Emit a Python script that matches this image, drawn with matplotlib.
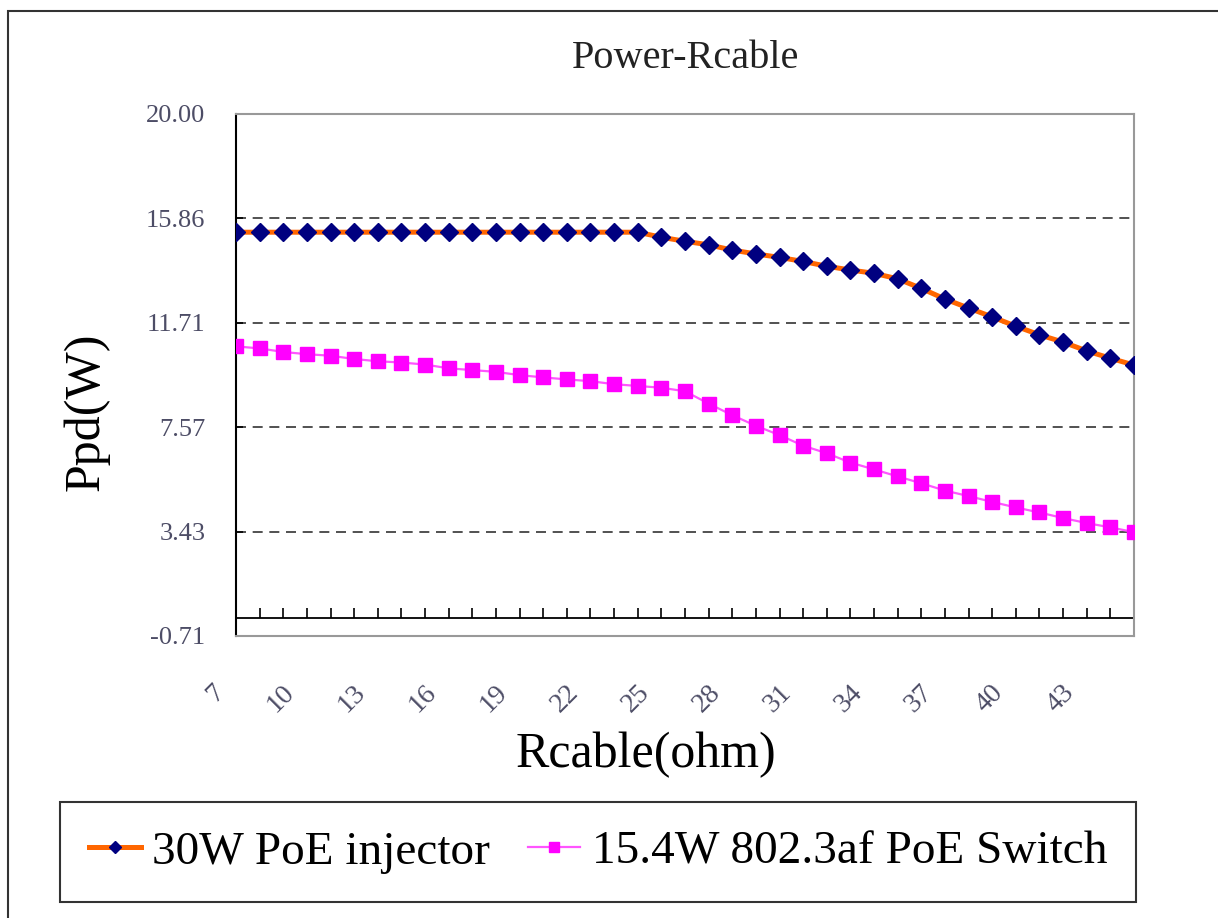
"""
Power delivered to the PD versus cable resistance for two PSE sources.
"""
import numpy as np
import matplotlib

matplotlib.use("Agg")
import matplotlib.pyplot as plt
from matplotlib.patches import Rectangle
from matplotlib.transforms import ScaledTranslation

# Cable resistance categories (ohm)
rcable = list(range(7, 46))
xtick_labels = [7, 10, 13, 16, 19, 22, 25, 28, 31, 34, 37, 40, 43]

# Power at the PD (W)
poe_injector_30w = [
    15.31, 15.31, 15.31, 15.31, 15.31, 15.31, 15.31, 15.31, 15.31, 15.31,
    15.31, 15.31, 15.31, 15.31, 15.31, 15.31, 15.31, 15.31, 15.11, 14.95,
    14.81, 14.60, 14.45, 14.31, 14.15, 13.96, 13.81, 13.68, 13.46, 13.08,
    12.66, 12.30, 11.95, 11.58, 11.24, 10.95, 10.60, 10.31, 10.04,
]
poe_switch_15w = [
    10.78, 10.70, 10.56, 10.47, 10.41, 10.28, 10.19, 10.14, 10.06, 9.91,
    9.84, 9.77, 9.64, 9.55, 9.47, 9.40, 9.28, 9.21, 9.14, 9.00,
    8.51, 8.05, 7.63, 7.26, 6.84, 6.54, 6.17, 5.90, 5.62, 5.35,
    5.06, 4.84, 4.61, 4.39, 4.19, 3.97, 3.77, 3.60, 3.41,
]

ytick_values = [-0.71, 3.43, 7.57, 11.71, 15.86, 20.00]
ytick_labels = ["-0.71", "3.43", "7.57", "11.71", "15.86", "20.00"]

plt.rcParams["font.family"] = ["Liberation Serif", "DejaVu Serif"]

W, H = 1218, 918
fig = plt.figure(figsize=(W / 100, H / 100), dpi=100)

# outer frame of the chart area
fig.patches.append(
    Rectangle((8 / W, -0.2), 1.2, 1.2 - 11 / H, transform=fig.transFigure,
              fill=False, edgecolor="#333333", linewidth=1.5, clip_on=False)
)

ax = fig.add_axes([236 / W, 1 - 636 / H, (1134 - 236) / W, (636 - 114) / H])

ax.plot(rcable, poe_injector_30w, color="#FF6600", linewidth=3.6,
        marker="D", markersize=9, markerfacecolor="#000080",
        markeredgecolor="#000080", label="30W PoE injector", zorder=4)
ax.plot(rcable, poe_switch_15w, color="#FF55FF", linewidth=1.6,
        marker="s", markersize=10, markerfacecolor="#FF00FF",
        markeredgecolor="#FF00FF", label="15.4W 802.3af PoE Switch", zorder=3)

ax.set_xlim(rcable[0], rcable[-1])
ax.set_ylim(ytick_values[0], ytick_values[-1])

# dashed gridlines at inner y ticks
for v in ytick_values[1:-1]:
    ax.axhline(v, color="#333333", linestyle=(0, (6, 4)), linewidth=1.2, zorder=1)

# category axis drawn at y=0
ax.axhline(0, color="black", linewidth=1.3, zorder=2)
ax.plot(rcable, np.zeros(len(rcable)), linestyle="", marker=2, markersize=7,
        markeredgewidth=1.2, color="black", zorder=2)

ax.set_yticks(ytick_values)
ax.set_yticklabels(ytick_labels)
ax.tick_params(axis="y", direction="in", length=5, width=1.2, pad=22,
               labelsize=19, labelcolor="#4d4d66")

ax.set_xticks(xtick_labels)
ax.set_xticklabels([str(v) for v in xtick_labels], rotation=45, ha="right",
                   va="center", rotation_mode="anchor")
ax.tick_params(axis="x", length=0, pad=38, labelsize=20, labelcolor="#4d4d66")
shift = ScaledTranslation(-16 / 100, 0, fig.dpi_scale_trans)
for lbl in ax.get_xticklabels():
    lbl.set_transform(lbl.get_transform() + shift)

ax.spines["left"].set_color("black")
ax.spines["left"].set_linewidth(1.5)
for side in ["top", "right", "bottom"]:
    ax.spines[side].set_color("#999999")
    ax.spines[side].set_linewidth(1.5)

fig.text(686 / W, 1 - 58 / H, "Power-Rcable", ha="center", va="center",
         fontsize=29, color="#222222")
fig.text(86 / W, 1 - 412 / H, "Ppd(W)", ha="center", va="center",
         rotation=90, fontsize=36, color="black")
fig.text(646 / W, 1 - 755 / H, "Rcable(ohm)", ha="center", va="center",
         fontsize=36, color="black")

leg = fig.legend(loc="center", bbox_to_anchor=(598 / W, 1 - 852 / H),
                 ncol=2, fontsize=34, frameon=True, fancybox=False,
                 edgecolor="black", handlelength=1.1, handletextpad=0.25,
                 columnspacing=0.8, borderpad=0.6, markerscale=0.65)
leg.get_frame().set_linewidth(1.5)

fig.savefig("out.png", dpi=100)
